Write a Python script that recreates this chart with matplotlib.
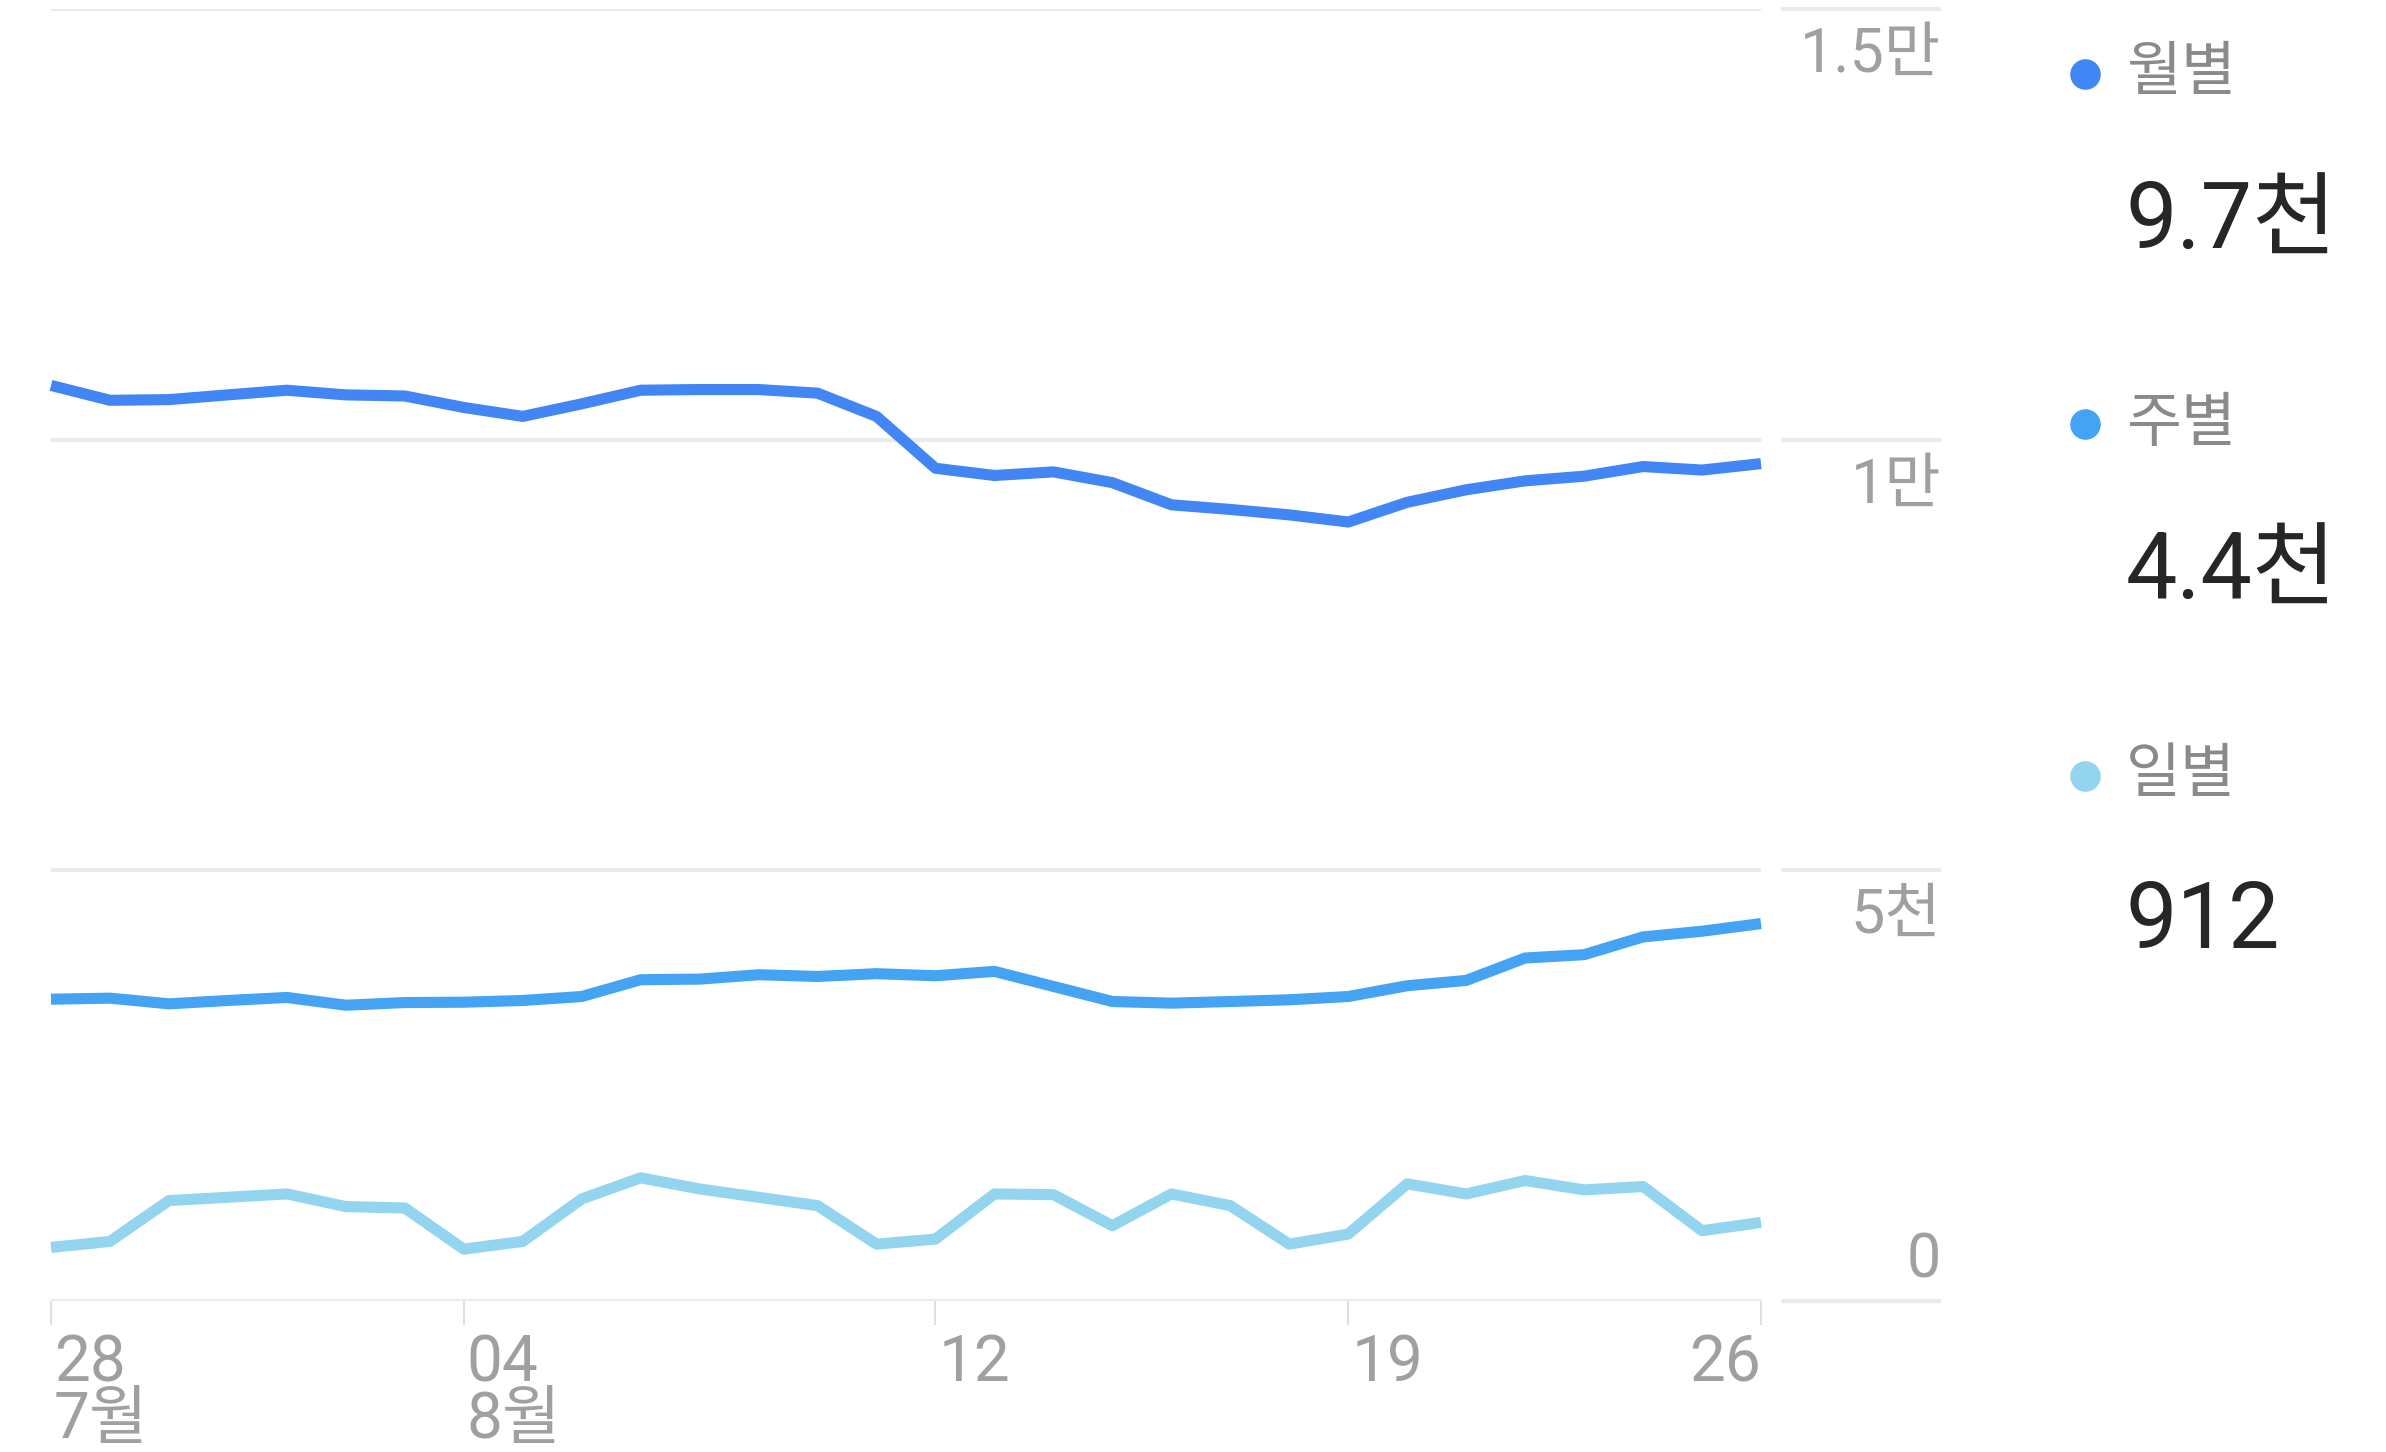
import matplotlib
matplotlib.use("Agg")
import matplotlib.pyplot as plt

plt.rcParams['font.family'] = ['Roboto', 'Noto Sans CJK KR', 'DejaVu Sans']

# daily points, 7/28 .. 8/26
monthly = [10630, 10457, 10465, 10520, 10574, 10520, 10507, 10374, 10270, 10416,
           10574, 10582, 10582, 10540, 10270, 9668, 9584, 9626, 9501, 9244,
           9190, 9127, 9044, 9273, 9418, 9522, 9576, 9688, 9647, 9722]
weekly = [3504, 3516, 3450, 3489, 3524, 3434, 3465, 3469, 3489, 3535,
          3730, 3737, 3788, 3768, 3800, 3776, 3827, 3652, 3477, 3458,
          3477, 3497, 3535, 3660, 3722, 3982, 4021, 4227, 4293, 4382]
daily = [622, 692, 1166, 1204, 1243, 1096, 1080, 602, 692, 1185,
         1430, 1301, 1204, 1107, 660, 719, 1243, 1235, 874, 1243,
         1107, 660, 777, 1360, 1243, 1399, 1290, 1329, 816, 912]

tick_pos = [0, 7, 15, 22, 29]
tick_days = ['28', '04', '12', '19', '26']
tick_months = ['7월', '8월', '', '', '']

y_ticks = [0, 5000, 10000, 15000]
y_labels = ['0', '5천', '1만', '1.5만']

series_names = ['월별', '주별', '일별']
series_totals = ['9.7천', '4.4천', '912']
colors = ['#4285F4', '#45A3F3', '#93D5EE']

W, H = 2386, 1452
fig = plt.figure(figsize=(W / 100, H / 100), dpi=100)
ax = fig.add_axes([51 / W, (H - 1301) / H, (1761 - 51) / W, (1301 - 9) / H])
ax.set_xlim(0, 29)
ax.set_ylim(0, 15000)
for s in ax.spines.values():
    s.set_visible(False)
ax.set_yticks([])
ax.set_xticks(tick_pos)
ax.tick_params(axis='x', direction='out', length=17, width=1.5,
               color='#E0E0E0', labelbottom=False)

grid_c = '#EBEBEB'
ytrans = ax.get_yaxis_transform()
for v in y_ticks:
    ax.axhline(v, color=grid_c, lw=3, zorder=0)
    ax.hlines(v, 1.0117, 1.1053, transform=ytrans, color=grid_c, lw=3, clip_on=False)

# y labels sit under their gridline, except 0 which sits above
for v, lab in zip(y_ticks, y_labels):
    off = 41 if v == 0 else -46
    ax.annotate(lab, xy=(1.1053, v), xycoords=ytrans, xytext=(0, off * 0.72),
                textcoords='offset points', ha='right', va='center',
                fontsize=44, color='#A0A0A0')

x = list(range(len(daily)))
for vals, c in zip([monthly, weekly, daily], colors):
    ax.plot(x, vals, color=c, lw=8, solid_joinstyle='round',
            solid_capstyle='butt', clip_on=False, zorder=3)

xtrans = ax.get_xaxis_transform()
for i, (p, d, m) in enumerate(zip(tick_pos, tick_days, tick_months)):
    last = i == len(tick_pos) - 1
    ha = 'right' if last else 'left'
    dx = 0 if last else 3
    ax.annotate(d, xy=(p, 0), xycoords=xtrans, xytext=(dx * 0.72, -62 * 0.72),
                textcoords='offset points', ha=ha, va='center',
                fontsize=46, color='#A0A0A0', annotation_clip=False)
    if m:
        ax.annotate(m, xy=(p, 0), xycoords=xtrans, xytext=(dx * 0.72, -119 * 0.72),
                    textcoords='offset points', ha=ha, va='center',
                    fontsize=46, color='#A0A0A0', annotation_clip=False)

# legend block on the right
label_y = [74, 424, 776]
value_y = [223, 573, 922]
for name, total, c, ly, vy in zip(series_names, series_totals, colors, label_y, value_y):
    ax.plot([2085 / W], [1 - ly / H], 'o', ms=21, color=c,
            transform=fig.transFigure, clip_on=False)
    fig.text(2126 / W, 1 - ly / H, name, ha='left', va='center',
             fontsize=43, color='#8A8A8A')
    fig.text(2126 / W, 1 - vy / H, total, ha='left', va='center',
             fontsize=66, color='#262626')

fig.savefig('out.png', dpi=100, facecolor='white')
